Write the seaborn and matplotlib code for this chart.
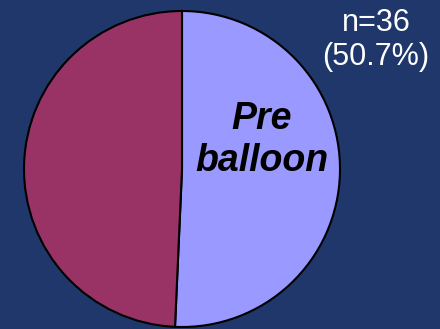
import matplotlib
matplotlib.use("Agg")
import matplotlib.pyplot as plt
import seaborn as sns

# Patients by timing of the procedure
groups = ["Pre balloon", "Other"]
counts = [36, 35]
colors = ["#9999ff", "#993366"]

sns.set_theme(style="white")
plt.rcParams["font.family"] = ["Liberation Sans", "DejaVu Sans"]

bg = "#1f376b"
fig = plt.figure(figsize=(4.40, 3.29), dpi=100, facecolor=bg)
ax = fig.add_axes([0, 0, 1, 1])
ax.set_facecolor(bg)

W, H = 440, 329
ax.pie(counts, colors=colors, startangle=90, counterclock=False,
       center=(182, H - 169), radius=158, frame=True,
       wedgeprops=dict(edgecolor="black", linewidth=1.5))
ax.set_xlim(0, W)
ax.set_ylim(0, H)
ax.set_aspect("equal")
ax.axis("off")

share = counts[0] / sum(counts) * 100
ax.text(376, H - 40, f"n={counts[0]}\n({share:.1f}%)", color="white",
        fontsize=22, ha="center", va="center", linespacing=1.2)
ax.text(262, H - 140, "Pre\nballoon", color="black", fontsize=27,
        fontweight="bold", fontstyle="italic", ha="center", va="center",
        linespacing=1.2)

fig.savefig("out.png", dpi=100, facecolor=bg)
